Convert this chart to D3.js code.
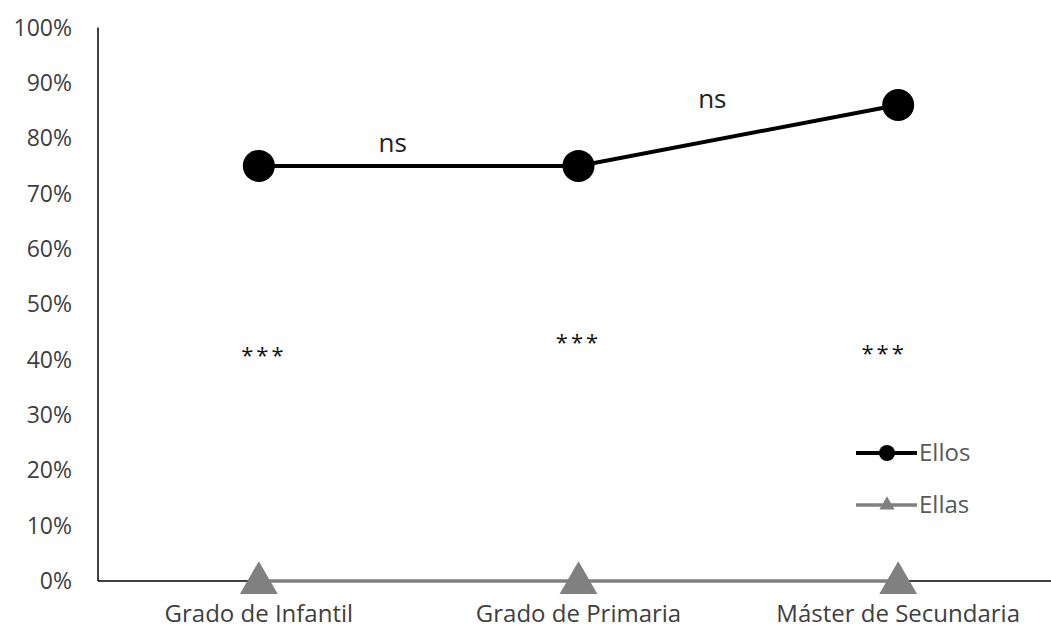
<!DOCTYPE html>
<html>
<head>
<meta charset="utf-8">
<script src="https://cdn.jsdelivr.net/npm/d3@7"></script>
<style>
  body { margin: 0; background: #fff; }
  text { font-family: "Open Sans", "Noto Sans", sans-serif; }
</style>
</head>
<body>
<div class="chart"></div>
<script>
const categories = ["Grado de Infantil", "Grado de Primaria", "Máster de Secundaria"];
const ellos = [0.75, 0.75, 0.86];
const ellas = [0, 0, 0];
const yTicks = [0, 0.1, 0.2, 0.3, 0.4, 0.5, 0.6, 0.7, 0.8, 0.9, 1];
const nsLabels = [
  { from: 0, to: 1, value: 0.788 },
  { from: 1, to: 2, value: 0.867 },
];
const starLabels = [
  { cat: 0, value: 0.417 },
  { cat: 1, value: 0.441 },
  { cat: 2, value: 0.421 },
];

const width = 1051, height = 629;

const svg = d3.select(".chart").append("svg")
  .attr("width", width)
  .attr("height", height);

const x = d3.scaleBand().domain(categories).range([99, 1058]);
const cx = (d) => x(d) + x.bandwidth() / 2;
const y = d3.scaleLinear().domain([0, 1]).range([581, 27.5]);

// y axis
svg.append("line")
  .attr("x1", 98).attr("x2", 98)
  .attr("y1", y(1)).attr("y2", y(0))
  .attr("stroke", "#000").attr("stroke-width", 1.5);

svg.selectAll(".ytick")
  .data(yTicks)
  .enter()
  .append("text")
  .attr("x", 72)
  .attr("y", (d) => y(d))
  .attr("dy", "0.35em")
  .attr("text-anchor", "end")
  .attr("fill", "#404040")
  .style("font-size", "23px")
  .text((d) => d3.format(".0%")(d));

// x axis
svg.append("line")
  .attr("x1", 98).attr("x2", width)
  .attr("y1", y(0)).attr("y2", y(0))
  .attr("stroke", "#000").attr("stroke-width", 1.5);

svg.selectAll(".xtick")
  .data(categories)
  .enter()
  .append("text")
  .attr("x", (d) => cx(d))
  .attr("y", 622)
  .attr("text-anchor", "middle")
  .attr("fill", "#404040")
  .style("font-size", "24px")
  .text((d) => d);

const line = d3.line().x((d, i) => cx(categories[i])).y((d) => y(d));

// Ellas
svg.append("path")
  .datum(ellas)
  .attr("d", line)
  .attr("fill", "none")
  .attr("stroke", "#808080")
  .attr("stroke-width", 3.5);

const tri = d3.symbol().type(d3.symbolTriangle).size(620);
svg.selectAll(".tri")
  .data(ellas)
  .enter()
  .append("path")
  .attr("d", tri)
  .attr("transform", (d, i) => `translate(${cx(categories[i])},${y(d) + 2})`)
  .attr("fill", "#808080");

// Ellos
svg.append("path")
  .datum(ellos)
  .attr("d", line)
  .attr("fill", "none")
  .attr("stroke", "#000")
  .attr("stroke-width", 4);

svg.selectAll(".dot")
  .data(ellos)
  .enter()
  .append("circle")
  .attr("cx", (d, i) => cx(categories[i]))
  .attr("cy", (d) => y(d))
  .attr("r", 16)
  .attr("fill", "#000");

// annotations
svg.selectAll(".ns")
  .data(nsLabels)
  .enter()
  .append("text")
  .attr("x", (d) => (cx(categories[d.from]) + cx(categories[d.to])) / 2 - 26)
  .attr("y", (d) => y(d.value))
  .attr("dy", "0.28em")
  .attr("text-anchor", "middle")
  .attr("fill", "#222")
  .style("font-size", "26px")
  .text("ns");

svg.selectAll(".stars")
  .data(starLabels)
  .enter()
  .append("text")
  .attr("x", (d) => cx(categories[d.cat]) + [5, 0, -14][d.cat])
  .attr("y", (d) => y(d.value))
  .attr("dy", "0.6em")
  .attr("text-anchor", "middle")
  .attr("fill", "#111")
  .style("font-size", "22px")
  .style("letter-spacing", "3px")
  .text("***");

// legend
const legend = [
  { name: "Ellos", color: "#000", y: 453, shape: "circle" },
  { name: "Ellas", color: "#808080", y: 505, shape: "tri" },
];
const lg = svg.selectAll(".legend")
  .data(legend)
  .enter()
  .append("g")
  .attr("transform", (d) => `translate(856,${d.y})`);

lg.append("line")
  .attr("x1", 0).attr("x2", 61)
  .attr("stroke", (d) => d.color)
  .attr("stroke-width", (d) => (d.shape === "circle" ? 4 : 3.5));

lg.filter((d) => d.shape === "circle")
  .append("circle")
  .attr("cx", 31).attr("r", 8)
  .attr("fill", "#000");

lg.filter((d) => d.shape === "tri")
  .append("path")
  .attr("d", d3.symbol().type(d3.symbolTriangle).size(100))
  .attr("transform", "translate(31,0)")
  .attr("fill", "#808080");

lg.append("text")
  .attr("x", 63)
  .attr("dy", "0.35em")
  .attr("fill", "#595959")
  .style("font-size", "24px")
  .text((d) => d.name);
</script>
</body>
</html>
